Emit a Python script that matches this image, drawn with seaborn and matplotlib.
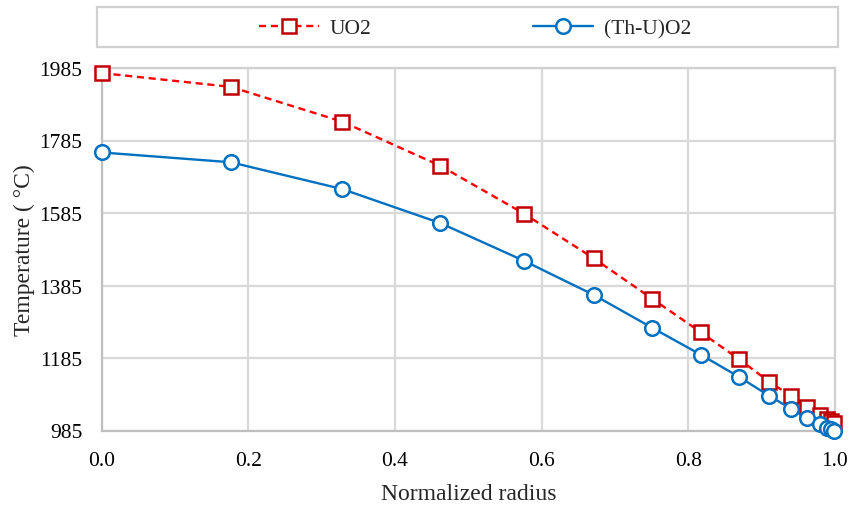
import matplotlib
matplotlib.use("Agg")
import matplotlib.pyplot as plt
import seaborn as sns
import pandas as pd
from matplotlib.patches import Rectangle

radius_uo2 = [0.0, 0.176, 0.328, 0.462, 0.576, 0.671, 0.751, 0.817, 0.869, 0.910,
              0.940, 0.962, 0.979, 0.989, 0.995, 0.999]
temp_uo2 = [1971, 1933, 1837, 1715, 1583, 1460, 1348, 1256, 1182, 1120,
            1080, 1049, 1028, 1017, 1011, 1006]
radius_thu = [0.0, 0.176, 0.328, 0.462, 0.576, 0.671, 0.751, 0.817, 0.869, 0.910,
              0.940, 0.962, 0.979, 0.989, 0.995, 0.999]
temp_thu = [1752, 1725, 1651, 1557, 1453, 1359, 1268, 1194, 1133, 1081,
            1045, 1020, 1003, 993, 988, 985]
yticks = [985, 1185, 1385, 1585, 1785, 1985]
xticks = [0.0, 0.2, 0.4, 0.6, 0.8, 1.0]
series_names = ["UO2", "(Th-U)O2"]

sns.set_style("white")
plt.rcParams["font.family"] = ["Liberation Serif", "DejaVu Serif"]

fig = plt.figure(figsize=(8.49, 5.06), dpi=100)
ax = fig.add_axes([101.7 / 849, 1 - 431.5 / 506, (835 - 101.7) / 849, (431.5 - 69) / 506])

df1 = pd.DataFrame({"r": radius_uo2, "T": temp_uo2})
df2 = pd.DataFrame({"r": radius_thu, "T": temp_thu})

sns.lineplot(data=df1, x="r", y="T", ax=ax, color="#ff0000", lw=1.7,
             linestyle=(0, (3, 2)), marker="s", markersize=10.5,
             markerfacecolor="white", markeredgecolor="#c00000", markeredgewidth=1.8,
             clip_on=False, label=series_names[0], legend=False, zorder=3)
sns.lineplot(data=df2, x="r", y="T", ax=ax, color="#0070c0", lw=1.7,
             marker="o", markersize=10.5,
             markerfacecolor="white", markeredgecolor="#0070c0", markeredgewidth=1.8,
             clip_on=False, label=series_names[1], legend=False, zorder=4)

ax.set_xlim(0, 1.0)
ax.set_ylim(985, 1985)
ax.set_xticks(xticks)
ax.set_xticklabels([f"{v:.1f}" for v in xticks])
ax.set_yticks(yticks)
ax.set_yticklabels([str(v) for v in yticks])
ax.grid(True, color="#d9d9d9", lw=1.6)
ax.set_axisbelow(True)
for s in ax.spines.values():
    s.set_color("#d0d0d0")
    s.set_linewidth(1.6)
ax.spines["left"].set_color("#bfbfbf")
ax.spines["bottom"].set_color("#bfbfbf")
ax.tick_params(axis="both", length=0, labelsize=15.5, colors="#000000")
ax.tick_params(axis="x", pad=15)
ax.tick_params(axis="y", pad=14)
ax.set_xlabel("Normalized radius", fontsize=17, labelpad=9)
ax.set_ylabel("Temperature ( °C)", fontsize=17, labelpad=3)

fig.patches.append(Rectangle((97 / 849, 1 - 48 / 506), (838 - 97) / 849, 40 / 506,
                             transform=fig.transFigure, facecolor="white",
                             edgecolor="#d0d0d0", lw=1.6, zorder=0))
handles, labels = ax.get_legend_handles_labels()
fig.legend(handles, labels, loc="center", bbox_to_anchor=(475 / 849, 1 - 29 / 506),
           ncol=2, frameon=False, fontsize=15.5, handlelength=2.8,
           columnspacing=7.5, handletextpad=0.5)

fig.savefig("out.png", dpi=100)
